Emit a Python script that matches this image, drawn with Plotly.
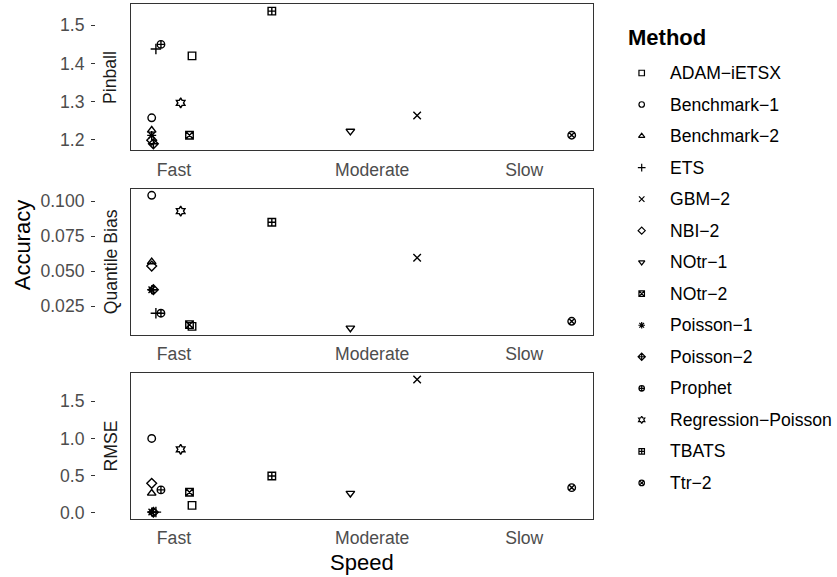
import plotly.graph_objects as go

W, H = 837, 577

# ---------------- data ----------------
methods = ["ADAM−iETSX", "Benchmark−1", "Benchmark−2", "ETS", "GBM−2", "NBI−2",
           "NOtr−1", "NOtr−2", "Poisson−1", "Poisson−2", "Prophet",
           "Regression−Poisson", "TBATS", "Ttr−2"]
speed = [9.6, 0.0, 0.0, 1.0, 63.2, 0.0, 47.3, 9.0, 0.0, 0.4, 2.2, 6.9, 28.6, 100.0]
pinball = [1.420, 1.258, 1.2255, 1.438, 1.264, 1.1995, 1.223, 1.2125, 1.212, 1.190,
           1.450, 1.297, 1.537, 1.2125]
quantile_bias = [0.0105, 0.1042, 0.0566, 0.0199, 0.0595, 0.0536, 0.0093, 0.0117,
                 0.0367, 0.0367, 0.0199, 0.0929, 0.0849, 0.0141]
rmse = [0.102, 1.000, 0.265, 0.012, 1.790, 0.398, 0.265, 0.278, 0.013, 0.010,
        0.310, 0.854, 0.496, 0.340]
speed_tickvals = [5.3, 52.5, 88.7]
speed_ticktext = ["Fast", "Moderate", "Slow"]
facet_names = ["Pinball", "Quantile Bias", "RMSE"]
pinball_ticks = [1.2, 1.3, 1.4, 1.5]
qb_ticks = [0.025, 0.050, 0.075, 0.100]
rmse_ticks = [0.0, 0.5, 1.0, 1.5]

# ---------------- style ----------------
symbols = ["square-open", "circle-open", "triangle-up-open", "cross-thin-open",
           "x-thin-open", "diamond-open", "triangle-down-open", "square-x-open",
           "asterisk-open", "diamond-cross-open", "circle-cross-open",
           "hexagram-open", "square-cross-open", "circle-x-open"]
FONT = "Liberation Sans, Arial, Helvetica, sans-serif"
SMALL = 17.6
BIG = 22
GREY30 = "#4D4D4D"
BORDER = "#333333"

panel_px = [(4.5, 151.5), (190.0, 337.0), (375.5, 522.5)]
x_px = (130.7, 592.7)
tick_axis_px = 95.0
strip_px = 110.5


def expand(vals, mult=0.05):
    lo, hi = min(vals), max(vals)
    r = hi - lo
    return [lo - mult * r, hi + mult * r]


fig = go.Figure()
series = [pinball, quantile_bias, rmse]
ticks = [pinball_ticks, qb_ticks, rmse_ticks]
fmts = [".1f", ".3f", ".1f"]

xr = expand(speed)
for k in range(3):
    n = k + 1
    xa = "x" if n == 1 else f"x{n}"
    ya = "y" if n == 1 else f"y{n}"
    gid = n + 3
    for i, m in enumerate(methods):
        fig.add_trace(go.Scatter(
            x=[speed[i]], y=[series[k][i]], mode="markers", xaxis=xa, yaxis=ya,
            showlegend=False, name=m, hoverinfo="name+y",
            marker=dict(symbol=symbols[i], size=7.5, color="black",
                        line=dict(color="black", width=1.4))))
    # empty trace so the tick-axis subplot exists
    fig.add_trace(go.Scatter(x=[], y=[], xaxis=xa, yaxis=f"y{gid}",
                             showlegend=False, hoverinfo="skip"))
    top, bot = panel_px[k]
    dom = [1 - bot / H, 1 - top / H]
    yr = expand(series[k])
    fig.layout[f"xaxis{'' if n == 1 else n}"] = dict(
        domain=[x_px[0] / W, x_px[1] / W], anchor=ya, range=xr,
        tickvals=speed_tickvals, ticktext=speed_ticktext, ticks="",
        ticklabelstandoff=3,
        tickfont=dict(size=SMALL, color=GREY30, family=FONT),
        showgrid=False, zeroline=False, showline=True, mirror=True,
        linecolor=BORDER, linewidth=1.2)
    fig.layout[f"yaxis{'' if n == 1 else n}"] = dict(
        domain=dom, anchor=xa, range=yr, showticklabels=False, ticks="",
        showgrid=False, zeroline=False, showline=True, mirror=True,
        linecolor=BORDER, linewidth=1.2)
    # tick axis (labels + tick marks sit left of the strip)
    fig.layout[f"yaxis{gid}"] = dict(
        domain=dom, overlaying=ya, anchor="free", position=tick_axis_px / W,
        side="left", range=yr, tickvals=ticks[k], tickformat=fmts[k],
        ticks="outside", ticklen=4, tickcolor=BORDER, tickwidth=1.2,
        ticklabelstandoff=3,
        tickfont=dict(size=SMALL, color=GREY30, family=FONT),
        showgrid=False, zeroline=False, showline=False)
    # strip label
    fig.add_annotation(x=strip_px / W, y=1 - (top + bot) / 2 / H, xref="paper",
                       yref="paper", text=facet_names[k], textangle=-90,
                       showarrow=False, xanchor="center", yanchor="middle",
                       font=dict(size=SMALL, color="#1A1A1A", family=FONT))

# axis titles
fig.add_annotation(x=(x_px[0] + x_px[1]) / 2 / W, y=1 - 566 / H, xref="paper",
                   yref="paper", text="Speed", showarrow=False,
                   xanchor="center", yanchor="middle",
                   font=dict(size=BIG, color="black", family=FONT))
fig.add_annotation(x=22 / W, y=1 - 247 / H, xref="paper", yref="paper",
                   text="Accuracy", textangle=-90, showarrow=False,
                   xanchor="center", yanchor="middle",
                   font=dict(size=BIG, color="black", family=FONT))

# legend (drawn on a pixel-space overlay axis in the legend area)
LX0 = 600
leg_x_sym, leg_x_txt, leg_y0, leg_dy = 641.7, 668.0, 73.5, 31.75
fig.add_trace(go.Scatter(
    x=[leg_x_sym] * len(methods), y=[leg_y0 + leg_dy * i for i in range(len(methods))],
    mode="markers", xaxis="x7", yaxis="y7", showlegend=False, hoverinfo="skip",
    marker=dict(symbol=symbols, size=5.5, color="black",
                line=dict(color="black", width=1.2))))
fig.layout["xaxis7"] = dict(domain=[LX0 / W, 1], range=[LX0, W], visible=False,
                            anchor="y7", fixedrange=True)
fig.layout["yaxis7"] = dict(domain=[0, 1], range=[H, 0], visible=False,
                            anchor="x7", fixedrange=True)
for i, m in enumerate(methods):
    fig.add_annotation(x=leg_x_txt / W, y=1 - (leg_y0 + leg_dy * i) / H,
                       xref="paper", yref="paper", text=m, showarrow=False,
                       xanchor="left", yanchor="middle",
                       font=dict(size=SMALL, color="black", family=FONT))
fig.add_annotation(x=626 / W, y=1 - 37.5 / H, xref="paper", yref="paper",
                   text="<b>Method</b>", showarrow=False, xanchor="left",
                   yanchor="middle", font=dict(size=BIG, color="black", family=FONT))

fig.update_layout(width=W, height=H, margin=dict(l=0, r=0, t=0, b=0),
                  paper_bgcolor="white", plot_bgcolor="rgba(0,0,0,0)",
                  font=dict(family=FONT), showlegend=False)
fig.write_html("out.html", config={"displayModeBar": False},
               post_script="document.body.style.margin='0';"
                           "document.body.style.padding='0';")
